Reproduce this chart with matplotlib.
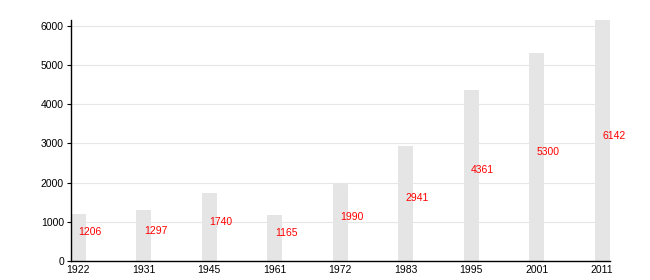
import matplotlib
matplotlib.use("Agg")
import matplotlib.pyplot as plt

years = ["1922", "1931", "1945", "1961", "1972", "1983", "1995", "2001", "2011"]
population = [1206, 1297, 1740, 1165, 1990, 2941, 4361, 5300, 6142]

plt.rcParams['font.family'] = ['Liberation Sans', 'DejaVu Sans']

fig = plt.figure(figsize=(6.5, 2.8), dpi=100)
ax = fig.add_axes([0.109, 0.068, 0.829, 0.861])

width = 0.23
pos = list(range(len(years)))
ax.bar(pos, population, width=width, color='#e5e5e5', edgecolor='none', zorder=2)

# value labels, in red, around the middle of each bar
for x, v in zip(pos, population):
    ax.text(x, v / 2, str(v), color='red', fontsize=7.5, ha='left', va='bottom', zorder=3)

ax.set_xlim(-width / 2, len(years) - 1 + width / 2)
ax.set_ylim(0, 6150)
ax.set_yticks(range(0, 7000, 1000))
ax.set_xticks(pos)
ax.set_xticklabels(years)
ax.yaxis.grid(True, color='#e6e6e6', linewidth=0.8, zorder=0)
ax.set_axisbelow(True)

for s in ['top', 'right']:
    ax.spines[s].set_visible(False)
ax.spines['left'].set_linewidth(1)
ax.spines['bottom'].set_linewidth(1)
ax.tick_params(axis='y', length=3, width=0.8, labelsize=7.5, pad=2)
ax.tick_params(axis='x', length=0, labelsize=7.5, pad=3)

fig.savefig("out.png", dpi=100)
